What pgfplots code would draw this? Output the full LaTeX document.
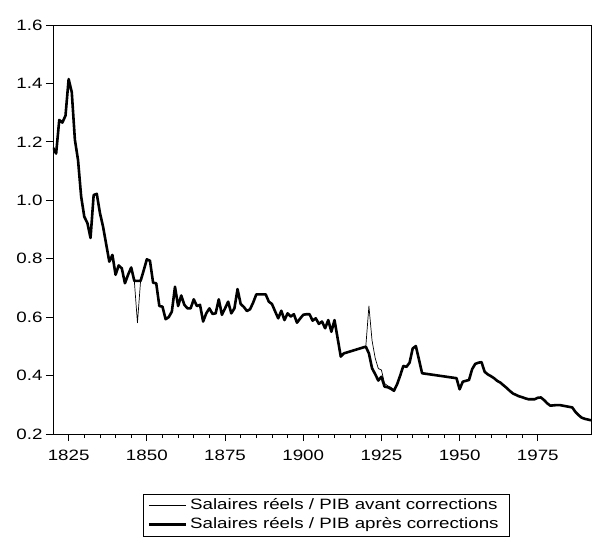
\documentclass[border=0pt]{standalone}
\usepackage{fontspec}
\setmainfont{Liberation Sans}[FakeStretch=1.25]
\usepackage{pgfplots}
\pgfplotsset{compat=1.18}
\pgfplotstableread{
year v
1820 1.180
1821 1.160
1822 1.275
1823 1.266
1824 1.290
1825 1.415
1826 1.370
1827 1.207
1828 1.138
1829 1.013
1830 0.944
1831 0.922
1832 0.871
1833 1.018
1834 1.022
1835 0.957
1836 0.910
1837 0.850
1838 0.790
1839 0.813
1840 0.745
1841 0.777
1842 0.767
1843 0.716
1844 0.745
1845 0.770
1846 0.724
1847 0.724
1848 0.724
1849 0.760
1850 0.798
1851 0.793
1852 0.718
1853 0.716
1854 0.638
1855 0.636
1856 0.593
1857 0.600
1858 0.619
1859 0.704
1860 0.638
1861 0.674
1862 0.642
1863 0.630
1864 0.630
1865 0.661
1866 0.638
1867 0.642
1868 0.585
1869 0.613
1870 0.630
1871 0.611
1872 0.613
1873 0.661
1874 0.608
1875 0.630
1876 0.653
1877 0.613
1878 0.630
1879 0.696
1880 0.645
1881 0.635
1882 0.621
1883 0.627
1884 0.650
1885 0.678
1886 0.678
1887 0.678
1888 0.678
1889 0.653
1890 0.645
1891 0.620
1892 0.596
1893 0.622
1894 0.590
1895 0.613
1896 0.602
1897 0.610
1898 0.581
1899 0.595
1900 0.608
1901 0.610
1902 0.610
1903 0.588
1904 0.596
1905 0.577
1906 0.585
1907 0.562
1908 0.590
1909 0.550
1910 0.590
1912 0.465
1913 0.476
1920 0.499
1921 0.476
1922 0.425
1923 0.405
1924 0.383
1925 0.396
1926 0.362
1927 0.360
1928 0.355
1929 0.348
1930 0.370
1931 0.400
1932 0.433
1933 0.430
1934 0.444
1935 0.493
1936 0.501
1937 0.455
1938 0.408
1949 0.391
1950 0.353
1951 0.379
1952 0.382
1953 0.385
1954 0.422
1955 0.440
1956 0.444
1957 0.446
1958 0.413
1959 0.404
1960 0.398
1961 0.391
1962 0.382
1963 0.376
1964 0.367
1965 0.358
1966 0.348
1967 0.339
1968 0.334
1969 0.329
1970 0.326
1971 0.322
1972 0.319
1973 0.319
1974 0.319
1975 0.324
1976 0.325
1977 0.316
1978 0.305
1979 0.297
1980 0.298
1981 0.299
1982 0.299
1983 0.297
1984 0.295
1985 0.293
1986 0.291
1987 0.276
1988 0.265
1989 0.256
1990 0.252
1992 0.247
}\after
\pgfplotstableread{
year v
1820 1.180
1821 1.160
1822 1.275
1823 1.266
1824 1.290
1825 1.415
1826 1.370
1827 1.207
1828 1.138
1829 1.013
1830 0.944
1831 0.922
1832 0.871
1833 1.018
1834 1.022
1835 0.957
1836 0.910
1837 0.850
1838 0.790
1839 0.813
1840 0.745
1841 0.777
1842 0.767
1843 0.716
1844 0.745
1845 0.770
1846 0.724
1847 0.581
1848 0.724
1849 0.760
1850 0.798
1851 0.793
1852 0.718
1853 0.716
1854 0.638
1855 0.636
1856 0.593
1857 0.600
1858 0.619
1859 0.704
1860 0.638
1861 0.674
1862 0.642
1863 0.630
1864 0.630
1865 0.661
1866 0.638
1867 0.642
1868 0.585
1869 0.613
1870 0.630
1871 0.611
1872 0.613
1873 0.661
1874 0.608
1875 0.630
1876 0.653
1877 0.613
1878 0.630
1879 0.696
1880 0.645
1881 0.635
1882 0.621
1883 0.627
1884 0.650
1885 0.678
1886 0.678
1887 0.678
1888 0.678
1889 0.653
1890 0.645
1891 0.620
1892 0.596
1893 0.622
1894 0.590
1895 0.613
1896 0.602
1897 0.610
1898 0.581
1899 0.595
1900 0.608
1901 0.610
1902 0.610
1903 0.588
1904 0.596
1905 0.577
1906 0.585
1907 0.562
1908 0.590
1909 0.550
1910 0.590
1912 0.465
1913 0.476
1920 0.499
1921 0.638
1922 0.520
1923 0.460
1924 0.424
1925 0.419
1926 0.373
1927 0.365
1928 0.360
1929 0.352
1930 0.370
1931 0.400
1932 0.433
1933 0.430
1934 0.444
1935 0.493
1936 0.501
1937 0.455
1938 0.408
1949 0.391
1950 0.353
1951 0.379
1952 0.382
1953 0.385
1954 0.422
1955 0.440
1956 0.444
1957 0.446
1958 0.413
1959 0.404
1960 0.398
1961 0.391
1962 0.382
1963 0.376
1964 0.367
1965 0.358
1966 0.348
1967 0.339
1968 0.334
1969 0.329
1970 0.326
1971 0.322
1972 0.319
1973 0.319
1974 0.319
1975 0.324
1976 0.325
1977 0.316
1978 0.305
1979 0.297
1980 0.298
1981 0.299
1982 0.299
1983 0.297
1984 0.295
1985 0.293
1986 0.291
1987 0.276
1988 0.265
1989 0.256
1990 0.252
1992 0.247
}\before
\begin{document}
\begin{tikzpicture}
\path[use as bounding box] (-53pt,-107pt) rectangle (539pt,434pt);
\begin{axis}[
  at={(0pt,0pt)}, anchor=south west,
  scale only axis, width=538pt, height=409pt,
  xmin=1820, xmax=1992, ymin=0.2, ymax=1.6,
  xtick={1825,1850,...,1975},
  minor x tick num=4,
  ytick={0.2,0.4,...,1.6},
  tick pos=left, tick align=outside,
  major tick length=7pt, minor tick length=4pt,
  axis line style={line width=0.8pt},
  every tick/.style={black, line width=0.8pt},
  /pgf/number format/assume math mode=true,
  tick label style={font=\fontsize{15}{18}\selectfont},
  xticklabel style={/pgf/number format/1000 sep={}, yshift=-5pt},
  yticklabel style={/pgf/number format/fixed, /pgf/number format/fixed zerofill, /pgf/number format/precision=1},
  legend style={at={(0.5085,-0.1467)}, anchor=north, draw=black, line width=0.6pt,
    font=\fontsize{15}{18}\selectfont, legend cell align=left,
    inner xsep=4pt, inner ysep=2pt, row sep=0.5pt,
    nodes={inner xsep=3pt, inner ysep=2pt, text height=11pt, text depth=3.5pt}},
  legend image code/.code={\draw[#1] (0pt,0pt) -- (37pt,0pt);},
]
\addplot[black, line width=0.7pt, line join=round] table[x=year,y=v] {\before};
\addlegendentry{Salaires réels / PIB avant corrections\hspace*{4pt}}
\addplot[black, line width=2.6pt, line join=round] table[x=year,y=v] {\after};
\addlegendentry{Salaires réels / PIB après corrections\hspace*{4pt}}
\end{axis}
\end{tikzpicture}
\end{document}
